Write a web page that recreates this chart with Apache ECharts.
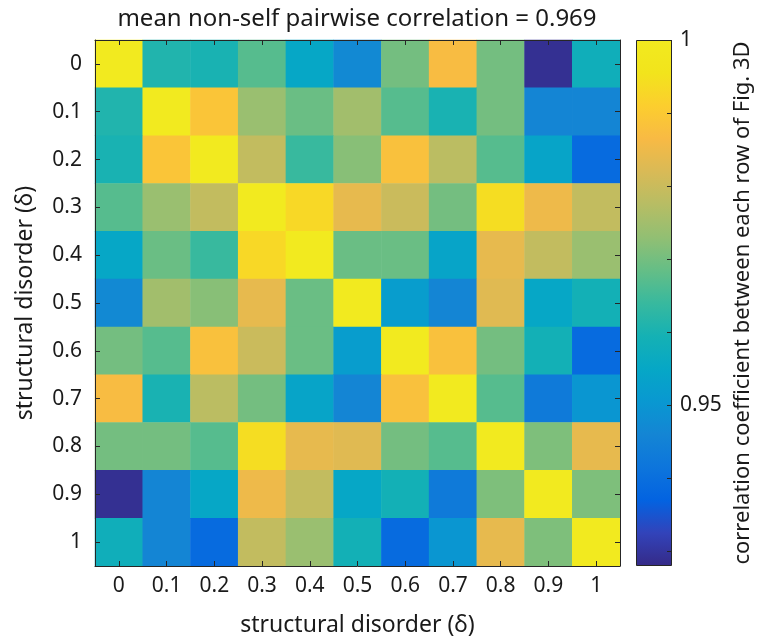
<!DOCTYPE html>
<html>
<head>
<meta charset="utf-8">
<script src="https://cdn.jsdelivr.net/npm/echarts@6/dist/echarts.min.js"></script>
<style>
  html, body { margin: 0; padding: 0; background: #fff; }
  #chart { width: 760px; height: 642px; }
</style>
</head>
<body>
<div id="chart"></div>
<script>
var deltaLabels = ['0', '0.1', '0.2', '0.3', '0.4', '0.5', '0.6', '0.7', '0.8', '0.9', '1'];

// correlation matrix, row = y (top to bottom), col = x
var corr = [
    [1.000, 0.961, 0.960, 0.967, 0.955, 0.947, 0.970, 0.987, 0.970, 0.929, 0.958],
    [0.961, 1.000, 0.989, 0.974, 0.969, 0.975, 0.967, 0.960, 0.970, 0.946, 0.946],
    [0.960, 0.989, 1.000, 0.979, 0.964, 0.972, 0.988, 0.978, 0.967, 0.954, 0.939],
    [0.967, 0.974, 0.979, 1.000, 0.993, 0.984, 0.980, 0.970, 0.994, 0.985, 0.979],
    [0.955, 0.969, 0.964, 0.993, 1.000, 0.969, 0.969, 0.954, 0.984, 0.979, 0.974],
    [0.947, 0.975, 0.972, 0.984, 0.969, 1.000, 0.952, 0.946, 0.983, 0.955, 0.959],
    [0.970, 0.967, 0.988, 0.980, 0.969, 0.952, 1.000, 0.988, 0.970, 0.959, 0.939],
    [0.987, 0.960, 0.978, 0.970, 0.954, 0.946, 0.988, 1.000, 0.967, 0.943, 0.950],
    [0.970, 0.970, 0.967, 0.994, 0.984, 0.983, 0.970, 0.967, 1.000, 0.971, 0.984],
    [0.929, 0.946, 0.955, 0.985, 0.979, 0.955, 0.959, 0.943, 0.971, 1.000, 0.971],
    [0.958, 0.946, 0.939, 0.979, 0.974, 0.959, 0.939, 0.950, 0.984, 0.971, 1.000]
];

var cbMin = 0.928;
var cbMax = 1;
var cbTicks = [0.93, 0.94, 0.95, 0.96, 0.97, 0.98, 0.99, 1];
var cbLabels = [0.95, 1];

// parula, evenly spaced stops
var parula = ['#352a87', '#3243ba', '#0363e1', '#0d75dc', '#1485d4', '#0998d1', '#06a7c6', '#15b1b4',
    '#38b99e', '#65be86', '#92bf73', '#b7bd64', '#d9ba56', '#f8ba44', '#fcce2e', '#f2e41c', '#f2ea1f'];

var heatData = [];
for (var i = 0; i < corr.length; i++) {
    for (var j = 0; j < corr[i].length; j++) {
        heatData.push([j, i, corr[i][j]]);
    }
}

var font = 'Noto Sans';
var ink = '#1a1a1a';
var axisCol = '#262626';

var myChart = echarts.init(document.getElementById('chart'));
var gradStops = parula.map(function (c, k) {
    return { offset: k / (parula.length - 1), color: c };
});

var option = {
    backgroundColor: '#fff',
    animation: false,
    textStyle: { fontFamily: font },
    graphic: [
        {
            type: 'text',
            x: 357,
            y: 19,
            style: {
                text: 'mean non-self pairwise correlation = 0.969',
                fontFamily: font,
                fontSize: 24,
                fill: ink,
                textAlign: 'center',
                textVerticalAlign: 'middle'
            }
        }
    ],
    grid: [
        { left: 95, top: 40, width: 525, height: 527 },
        { left: 636, top: 40, width: 36, height: 526 }
    ],
    visualMap: {
        show: false,
        type: 'continuous',
        min: cbMin,
        max: cbMax,
        dimension: 2,
        seriesIndex: 0,
        inRange: { color: parula }
    },
    xAxis: [
        {
            type: 'category',
            gridIndex: 0,
            data: deltaLabels,
            position: 'bottom',
            z: 10,
            axisLine: { show: true, lineStyle: { color: axisCol, width: 1 } },
            axisTick: { show: true, inside: true, alignWithLabel: true, length: 5, lineStyle: { color: axisCol } },
            axisLabel: { fontSize: 21, color: ink, margin: 10, fontFamily: font },
            splitLine: { show: false },
            name: 'structural disorder (δ)',
            nameLocation: 'middle',
            nameGap: 48,
            nameTextStyle: { fontSize: 23, color: ink, fontFamily: font }
        },
        {
            type: 'category',
            gridIndex: 0,
            data: deltaLabels,
            position: 'top',
            z: 10,
            axisLine: { show: true, lineStyle: { color: axisCol, width: 1 } },
            axisTick: { show: true, inside: true, alignWithLabel: true, length: 5, lineStyle: { color: axisCol } },
            axisLabel: { show: false },
            splitLine: { show: false }
        },
        {
            type: 'category',
            gridIndex: 1,
            data: ['c'],
            show: false
        }
    ],
    yAxis: [
        {
            type: 'category',
            gridIndex: 0,
            data: deltaLabels,
            inverse: true,
            position: 'left',
            z: 10,
            axisLine: { show: true, lineStyle: { color: axisCol, width: 1 } },
            axisTick: { show: true, inside: true, alignWithLabel: true, length: 5, lineStyle: { color: axisCol } },
            axisLabel: { fontSize: 21, color: ink, margin: 13, fontFamily: font },
            splitLine: { show: false },
            name: 'structural disorder (δ)',
            nameLocation: 'middle',
            nameGap: 58,
            nameTextStyle: { fontSize: 23, color: ink, fontFamily: font }
        },
        {
            type: 'category',
            gridIndex: 0,
            data: deltaLabels,
            inverse: true,
            position: 'right',
            z: 10,
            axisLine: { show: true, lineStyle: { color: axisCol, width: 1 } },
            axisTick: { show: true, inside: true, alignWithLabel: true, length: 5, lineStyle: { color: axisCol } },
            axisLabel: { show: false },
            splitLine: { show: false }
        },
        {
            type: 'value',
            gridIndex: 1,
            min: cbMin,
            max: cbMax,
            position: 'right',
            z: 10,
            axisLine: { show: false },
            axisTick: { show: true, inside: true, length: 5, customValues: cbTicks, lineStyle: { color: axisCol } },
            axisLabel: {
                customValues: cbLabels,
                fontSize: 21,
                color: ink,
                margin: 8,
                fontFamily: font,
                formatter: function (v) { return v === 1 ? '1' : v.toFixed(2); }
            },
            splitLine: { show: false },
            name: 'correlation coefficient between each row of Fig. 3D',
            nameLocation: 'middle',
            nameGap: 60,
            nameTextStyle: { fontSize: 22, color: ink, fontFamily: font }
        }
    ],
    series: [
        {
            type: 'heatmap',
            xAxisIndex: 0,
            yAxisIndex: 0,
            data: heatData,
            silent: true,
            itemStyle: { borderWidth: 0 },
            emphasis: { disabled: true }
        },
        {
            // invisible base so the colour bar starts at cbMin
            type: 'bar',
            xAxisIndex: 2,
            yAxisIndex: 2,
            stack: 'cb',
            silent: true,
            barWidth: '100%',
            data: [cbMin],
            itemStyle: { color: 'rgba(0,0,0,0)' }
        },
        {
            type: 'bar',
            xAxisIndex: 2,
            yAxisIndex: 2,
            stack: 'cb',
            silent: true,
            barWidth: '100%',
            data: [cbMax - cbMin],
            itemStyle: {
                color: new echarts.graphic.LinearGradient(0, 1, 0, 0, gradStops),
                borderColor: axisCol,
                borderWidth: 1
            }
        }
    ]
};
myChart.setOption(option, true);
</script>
</body>
</html>
